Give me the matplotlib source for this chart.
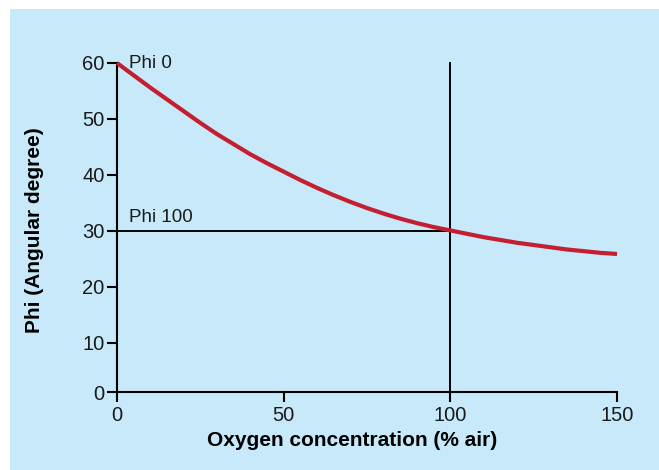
import matplotlib
matplotlib.use("Agg")
import matplotlib.pyplot as plt
from matplotlib.patches import Rectangle

plt.rcParams["font.family"] = ["Liberation Sans", "DejaVu Sans"]

# Data
oxygen = [0, 5, 10, 15, 20, 25, 30, 35, 40, 45, 50, 55, 60, 65, 70, 75,
          80, 85, 90, 95, 100, 105, 110, 115, 120, 125, 130, 135, 140, 145, 150]
phi = [60.0, 57.8, 55.6, 53.5, 51.4, 49.3, 47.3, 45.5, 43.7, 42.1, 40.6, 39.1, 37.7, 36.4, 35.2, 34.1,
       33.1, 32.2, 31.4, 30.7, 30.1, 29.5, 28.9, 28.4, 27.9, 27.5, 27.1, 26.7, 26.4, 26.1, 25.9]
phi0 = 60
phi100 = 30
o2_ref = 100
xticks = [0, 50, 100, 150]
yticks = [0, 10, 20, 30, 40, 50, 60]
xlabel = "Oxygen concentration (% air)"
ylabel = "Phi (Angular degree)"
bg = "#c7e9f9"
red = "#c41f30"
textc = "#1a1a1a"

fig = plt.figure(figsize=(6.59, 4.70), dpi=100)
fig.patch.set_facecolor("white")
fig.patches.append(Rectangle((10 / 659, 0), 1, (470 - 9) / 470, transform=fig.transFigure,
                             facecolor=bg, edgecolor="none", zorder=-10))

ax = fig.add_axes([117 / 659, (470 - 392) / 470, 500 / 659, (392 - 63) / 470])
ax.set_facecolor("none")

ymin = 60 - 329 / 5.6
ax.set_xlim(0, 150)
ax.set_ylim(ymin, 60)

ax.plot(oxygen, phi, color=red, lw=3.0, solid_capstyle="butt", solid_joinstyle="round",
        clip_on=False, zorder=3)
ax.plot([0, o2_ref], [phi100, phi100], color="black", lw=1.4, clip_on=False, zorder=2)
ax.plot([o2_ref, o2_ref], [ymin, phi0], color="black", lw=1.4, clip_on=False, zorder=2)

for s in ["top", "right"]:
    ax.spines[s].set_visible(False)
for s in ["left", "bottom"]:
    ax.spines[s].set_linewidth(1.5)
    ax.spines[s].set_color("black")

ax.set_xticks(xticks)
ax.set_xticklabels([str(v) for v in xticks])
ytick_pos = [ymin] + yticks[1:]
ax.set_yticks(ytick_pos)
ax.set_yticklabels([str(v) for v in yticks])

ax.tick_params(axis="both", direction="out", length=7, width=1.5, color="black",
               labelsize=14.5, labelcolor=textc)
ax.tick_params(axis="y", pad=2)
ax.tick_params(axis="x", pad=3)

ax.text(3.5, phi0, "Phi 0", fontsize=13.5, color=textc, ha="left", va="center")
ax.text(3.5, phi100 + 0.9, "Phi 100", fontsize=13.5, color=textc, ha="left", va="bottom")

lab_fam = ["Liberation Sans", "DejaVu Sans"]
fig.text(352 / 659, 1 - 441 / 470, xlabel, fontsize=15, fontweight="bold",
         family=lab_fam, ha="center", va="center")
fig.text(35 / 659, 1 - 230 / 470, ylabel, fontsize=15, fontweight="bold",
         family=lab_fam, ha="center", va="center", rotation=90)

fig.savefig("out.png", dpi=100)
